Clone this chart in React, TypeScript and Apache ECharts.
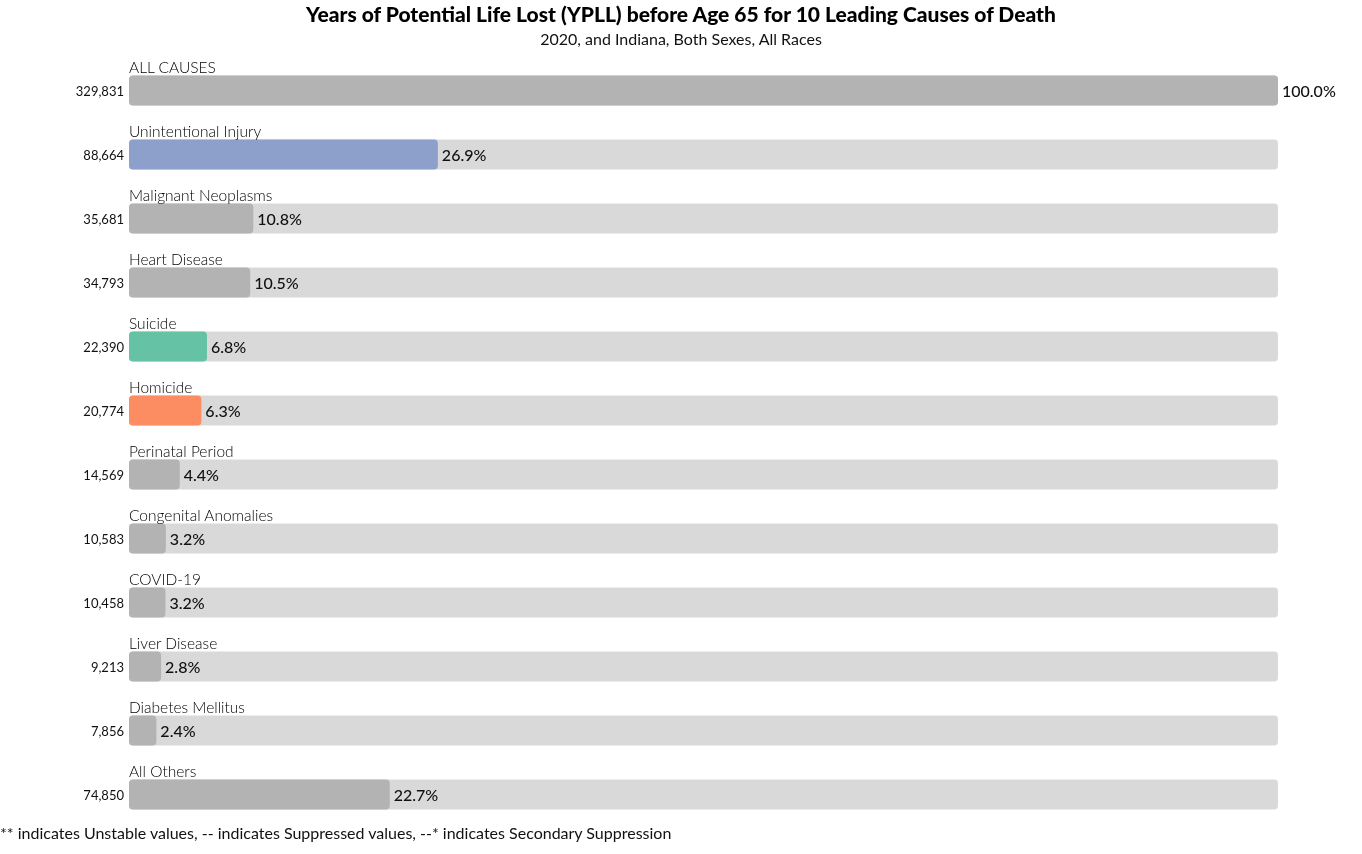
import React, { useEffect, useRef } from "react";
import * as echarts from "echarts";

const causes = [
  "ALL CAUSES",
  "Unintentional Injury",
  "Malignant Neoplasms",
  "Heart Disease",
  "Suicide",
  "Homicide",
  "Perinatal Period",
  "Congenital Anomalies",
  "COVID-19",
  "Liver Disease",
  "Diabetes Mellitus",
  "All Others",
];
const ypll = [329831, 88664, 35681, 34793, 22390, 20774, 14569, 10583, 10458, 9213, 7856, 74850];
const barColors = [
  "#b3b3b3", "#8da0cb", "#b3b3b3", "#b3b3b3", "#66c2a5", "#fc8d62",
  "#b3b3b3", "#b3b3b3", "#b3b3b3", "#b3b3b3", "#b3b3b3", "#b3b3b3",
];
const total = ypll[0];
const FONT = "Lato";

export default function App() {
  const ref = useRef<HTMLDivElement>(null);
  useEffect(() => {
    if (!ref.current) return;
    const chart = echarts.init(ref.current, null, { renderer: "svg" });
    chart.setOption({
      animation: false,
      textStyle: { fontFamily: FONT },
      title: {
        text: "Years of Potential Life Lost (YPLL) before Age 65 for 10 Leading Causes of Death",
        subtext: "2020, and Indiana, Both Sexes, All Races",
        left: "center",
        top: -2,
        itemGap: 6,
        textStyle: { fontFamily: FONT, fontSize: 21, fontWeight: 900, color: "#000" },
        subtextStyle: { fontFamily: FONT, fontSize: 16, color: "#111" },
      },
      graphic: [
        {
          type: "text",
          left: 0,
          top: 824,
          style: {
            text: "** indicates Unstable values, -- indicates Suppressed values, --* indicates Secondary Suppression",
            font: `16px ${FONT}`,
            fill: "#111",
          },
        },
      ],
      grid: { left: 129, right: 84, top: 58.5, height: 768, containLabel: false },
      xAxis: { type: "value", min: 0, max: total, show: false },
      yAxis: {
        type: "category",
        data: causes,
        inverse: true,
        axisLine: { show: false },
        axisTick: { show: false },
        splitLine: { show: false },
        axisLabel: {
          margin: 5,
          fontFamily: FONT,
          fontSize: 13,
          color: "#111",
          formatter: (_v: string, i: number) => ypll[i].toLocaleString("en-US"),
        },
      },
      series: [
        {
          type: "bar",
          barWidth: 30,
          data: ypll.map((v, i) => ({ value: v, itemStyle: { color: barColors[i] } })),
          itemStyle: { borderRadius: 4 },
          showBackground: true,
          backgroundStyle: { color: "#d9d9d9", borderRadius: 4 },
          label: {
            show: true,
            position: "right",
            distance: 4,
            fontFamily: FONT,
            fontSize: 16,
            fontWeight: 500,
            color: "#111",
            formatter: (p: any) => ((p.value / total) * 100).toFixed(1) + "%",
          },
        },
        {
          type: "bar",
          barWidth: 30,
          barGap: "-100%",
          data: ypll,
          itemStyle: { color: "rgba(0,0,0,0)" },
          silent: true,
          label: {
            show: true,
            position: [0, -1],
            align: "left",
            verticalAlign: "bottom",
            fontFamily: FONT,
            fontSize: 15.5,
            fontWeight: 300,
            color: "#000",
            formatter: (p: any) => causes[p.dataIndex],
          },
        },
      ],
    });
    return () => chart.dispose();
  }, []);
  return (
    <div
      ref={ref}
      style={{ position: "fixed", left: 0, top: 0, width: 1362, height: 854 }}
    />
  );
}
